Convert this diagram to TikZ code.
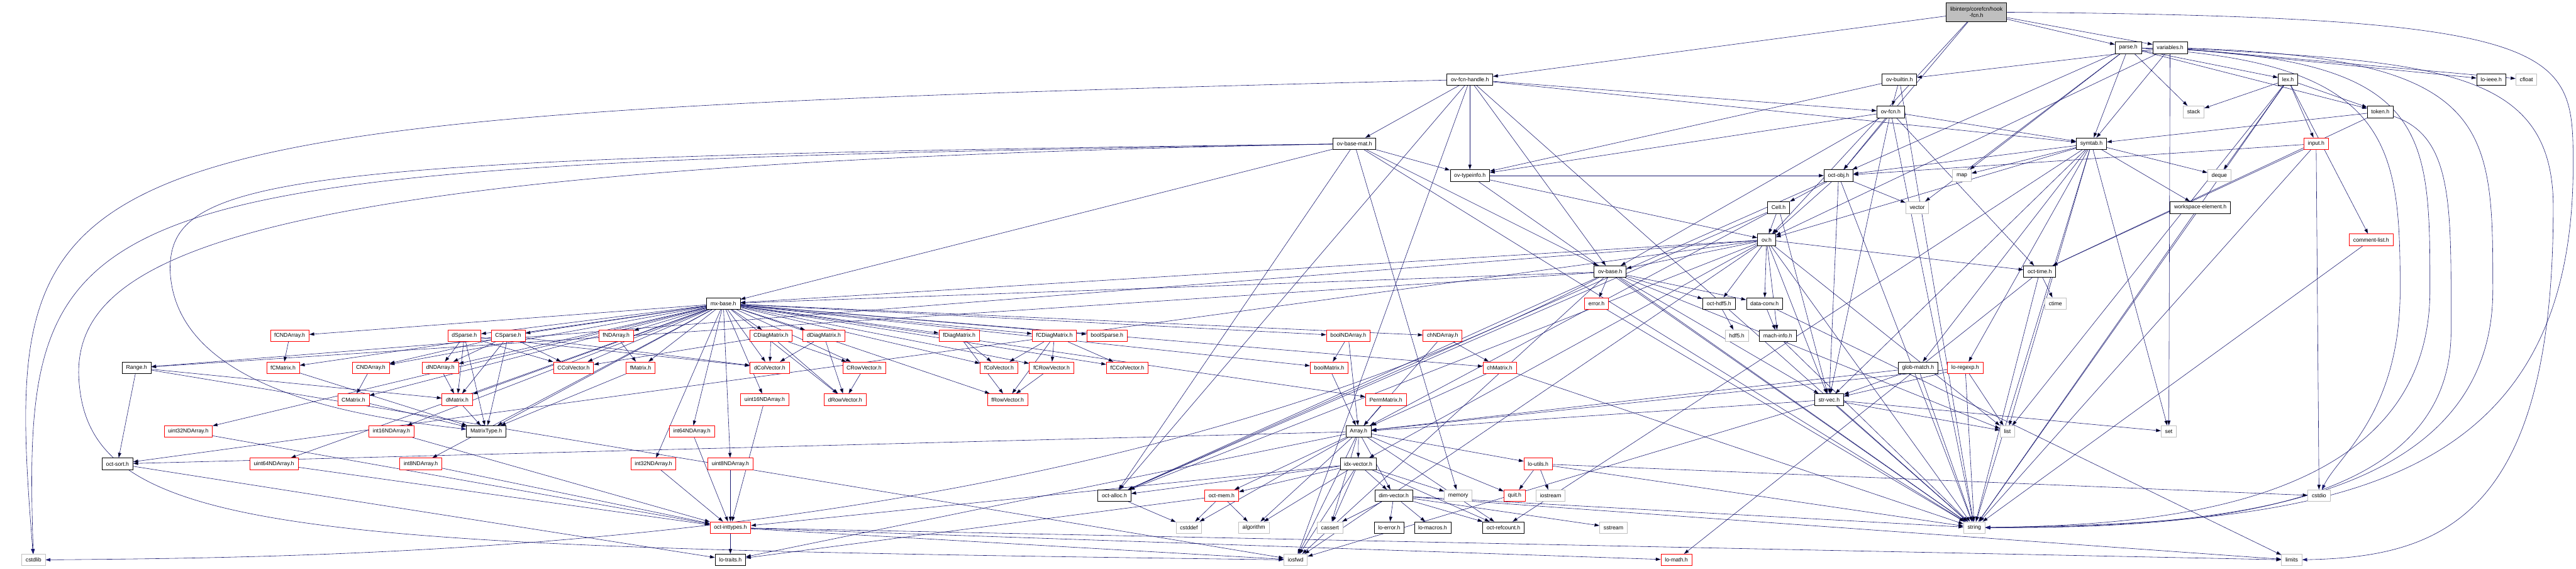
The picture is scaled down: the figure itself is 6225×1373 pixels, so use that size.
\documentclass[tikz,border=0pt]{standalone}
\usepackage{fontspec}
\setmainfont{Liberation Sans}
\usetikzlibrary{arrows.meta,backgrounds}
\definecolor{edgeblue}{RGB}{25,25,112}
\definecolor{sysgrey}{RGB}{191,191,191}

\begin{document}
\begin{tikzpicture}[x=1pt,y=1pt,
  hdr/.style={draw=black,fill=white,line width=1.1pt,inner xsep=9.5pt,inner ysep=0pt,minimum height=28pt,font=\fontsize{13.3}{15.5}\selectfont},
  redhdr/.style={hdr,draw=red},
  syshdr/.style={hdr,draw=sysgrey},
  mainhdr/.style={hdr,fill=sysgrey,minimum height=45pt,align=center},
  dep/.style={draw=edgeblue,line width=0.9pt,-{Triangle[length=12pt,width=8pt]}}]
\useasboundingbox (0,0) rectangle (6225,-1373);
\node[mainhdr] (hook) at (4776,-29) {libinterp/corefcn/hook\\-fcn.h};
\node[hdr] (parse) at (5143,-115) {parse.h}; \node[hdr] (vars) at (5244,-115) {variables.h};
\node[hdr] (ovfh) at (3552,-192) {ov-fcn-handle.h}; \node[hdr] (ovbuiltin) at (4590,-192) {ov-builtin.h};
\node[hdr] (lex) at (5529,-192) {lex.h}; \node[hdr] (loieee) at (6020,-192) {lo-ieee.h};
\node[syshdr] (cfloat) at (6105,-192) {cfloat};
\node[hdr] (ovfcn) at (4569,-270) {ov-fcn.h}; \node[syshdr] (stack) at (5301,-270) {stack};
\node[hdr] (token) at (5752,-270) {token.h};
\node[hdr] (ovbm) at (3273,-347) {ov-base-mat.h}; \node[hdr] (symtab) at (5054,-347) {symtab.h};
\node[redhdr] (input) at (5597,-347) {input.h};
\node[hdr] (ovti) at (3552,-424) {ov-typeinfo.h}; \node[hdr] (octobj) at (4443,-424) {oct-obj.h};
\node[syshdr] (map) at (4741,-424) {map}; \node[syshdr] (deque) at (5363,-424) {deque};
\node[hdr] (cell) at (4298,-501) {Cell.h}; \node[syshdr] (vector) at (4633,-501) {vector};
\node[hdr] (wselem) at (5317,-501) {workspace-element.h};
\node[hdr] (ov) at (4269,-579) {ov.h}; \node[redhdr] (cmtlist) at (5730,-579) {comment-list.h};
\node[hdr] (ovbase) at (3891,-656) {ov-base.h}; \node[hdr] (octtime) at (4929,-656) {oct-time.h};
\node[hdr] (mxbase) at (1748,-733) {mx-base.h}; \node[redhdr] (error) at (3858,-733) {error.h};
\node[hdr] (octhdf) at (4154,-733) {oct-hdf5.h}; \node[hdr] (dataconv) at (4264,-733) {data-conv.h};
\node[syshdr] (ctime) at (4967,-733) {ctime};
\node[redhdr] (fcnda) at (700,-811) {fCNDArray.h}; \node[redhdr] (dsparse) at (1122,-811) {dSparse.h};
\node[redhdr] (csparse) at (1228,-811) {CSparse.h}; \node[redhdr] (fnda) at (1489,-811) {fNDArray.h};
\node[redhdr] (cdiag) at (1863,-811) {CDiagMatrix.h}; \node[redhdr] (ddiag) at (1991,-811) {dDiagMatrix.h};
\node[redhdr] (fdiag) at (2318,-811) {fDiagMatrix.h}; \node[redhdr] (fcdiag) at (2548,-811) {fCDiagMatrix.h};
\node[redhdr] (boolsp) at (2675,-811) {boolSparse.h}; \node[redhdr] (boolnda) at (3258,-811) {boolNDArray.h};
\node[redhdr] (chnda) at (3486,-811) {chNDArray.h}; \node[syshdr] (hdf) at (4197,-811) {hdf5.h};
\node[hdr] (machinfo) at (4296,-811) {mach-info.h};
\node[hdr] (range) at (330,-888) {Range.h}; \node[redhdr] (fcmat) at (684,-888) {fCMatrix.h};
\node[redhdr] (cnda) at (896,-888) {CNDArray.h}; \node[redhdr] (dnda) at (1064,-888) {dNDArray.h};
\node[redhdr] (ccol) at (1386,-888) {CColVector.h}; \node[redhdr] (fmat) at (1548,-888) {fMatrix.h};
\node[redhdr] (dcol) at (1860,-888) {dColVector.h}; \node[redhdr] (crow) at (2088,-888) {CRowVector.h};
\node[redhdr] (fcol) at (2414,-888) {fColVector.h}; \node[redhdr] (fcrow) at (2541,-888) {fCRowVector.h};
\node[redhdr] (fccol) at (2724,-888) {fCColVector.h}; \node[redhdr] (boolmat) at (3212,-888) {boolMatrix.h};
\node[redhdr] (chmat) at (3624,-888) {chMatrix.h}; \node[hdr] (glob) at (4635,-888) {glob-match.h};
\node[redhdr] (regexp) at (4749,-888) {lo-regexp.h};
\node[redhdr] (cmat) at (854,-965) {CMatrix.h}; \node[redhdr] (dmat) at (1105,-965) {dMatrix.h};
\node[redhdr] (u16) at (1848,-965) {uint16NDArray.h}; \node[redhdr] (drow) at (2042,-965) {dRowVector.h};
\node[redhdr] (frow) at (2435,-965) {fRowVector.h}; \node[redhdr] (perm) at (3349,-965) {PermMatrix.h};
\node[hdr] (strvec) at (4420,-965) {str-vec.h};
\node[redhdr] (u32) at (455,-1042) {uint32NDArray.h}; \node[redhdr] (i16) at (946,-1042) {int16NDArray.h};
\node[hdr] (mtype) at (1175,-1042) {MatrixType.h}; \node[redhdr] (i64) at (1672,-1042) {int64NDArray.h};
\node[hdr] (array) at (3283,-1042) {Array.h}; \node[syshdr] (list) at (4851,-1042) {list};
\node[syshdr] (set) at (5241,-1042) {set};
\node[hdr] (sort) at (284,-1120) {oct-sort.h}; \node[redhdr] (u64) at (662,-1120) {uint64NDArray.h};
\node[redhdr] (i8) at (1017,-1120) {int8NDArray.h}; \node[redhdr] (i32) at (1579,-1120) {int32NDArray.h};
\node[redhdr] (u8) at (1765,-1120) {uint8NDArray.h}; \node[hdr] (idx) at (3282,-1120) {idx-vector.h};
\node[redhdr] (loutils) at (3717,-1120) {lo-utils.h};
\node[hdr] (alloc) at (2693,-1197) {oct-alloc.h}; \node[redhdr] (mem) at (2952,-1197) {oct-mem.h};
\node[hdr] (dimv) at (3368,-1197) {dim-vector.h}; \node[syshdr] (memory) at (3524,-1197) {memory};
\node[redhdr] (quit) at (3660,-1197) {quit.h}; \node[syshdr] (iostream) at (3747,-1197) {iostream};
\node[syshdr] (cstdio) at (5604,-1197) {cstdio};
\node[redhdr] (inttypes) at (1765,-1274) {oct-inttypes.h}; \node[syshdr] (cstddef) at (2873,-1274) {cstddef};
\node[syshdr] (algorithm) at (3030,-1274) {algorithm}; \node[syshdr] (cassert) at (3214,-1274) {cassert};
\node[hdr] (loerror) at (3357,-1274) {lo-error.h}; \node[hdr] (lomacros) at (3462,-1274) {lo-macros.h};
\node[hdr] (refcount) at (3633,-1274) {oct-refcount.h}; \node[syshdr] (sstream) at (3899,-1274) {sstream};
\node[syshdr] (string) at (4771,-1274) {string};
\node[syshdr] (cstdlib) at (81,-1352) {cstdlib}; \node[hdr] (lotraits) at (1765,-1352) {lo-traits.h};
\node[syshdr] (iosfwd) at (3131,-1352) {iosfwd}; \node[redhdr] (lomath) at (4051,-1352) {lo-math.h};
\node[syshdr] (limits) at (5538,-1352) {limits};
\begin{scope}[on background layer]
\path[dep] (hook) edge (ovfh) edge (octobj) edge (ov) edge (parse) edge (vars);
\draw[dep] (hook) .. controls (6215,-40) and (6218,-120) .. (6218,-400) .. controls (6218,-1200) and (5600,-1262) .. (string);
\path[dep] (parse) edge (stack) edge (lex) edge (token) edge (symtab) edge (octobj) edge (map) edge (vector);
\draw[dep] (parse) .. controls (5870,-135) and (5872,-300) .. (5872,-700) .. controls (5872,-1230) and (5200,-1268) .. (string);
\draw[dep] (parse) .. controls (5780,-150) and (5800,-350) .. (5800,-700) .. controls (5800,-1000) and (5650,-1100) .. (cstdio);
\path[dep] (vars) edge (ovbuiltin) edge (symtab) edge (loieee) edge (cfloat) edge (ov) edge (set);
\draw[dep] (vars) .. controls (6024,-140) and (6024,-300) .. (6024,-700) .. controls (6024,-1240) and (5300,-1272) .. (string);
\draw[dep] (vars) .. controls (5900,-150) and (6170,-170) .. (6170,-500) .. controls (6170,-1250) and (5900,-1345) .. (limits);
\path[dep] (ovfh) edge (ovbm) edge (ovti) edge (ovbase) edge (ovfcn) edge (symtab) edge (alloc) edge (iosfwd) edge (string);
\draw[dep] (ovfh) .. controls (60,-280) and (0,-330) .. (cstdlib);
\path[dep] (ovbuiltin) edge (ovfcn) edge (ovti) edge (string);
\path[dep] (ovfcn) edge (octobj) edge (symtab) edge (octtime) edge (strvec) edge (ovbase) edge (ovti) edge (string);
\path[dep] (ovbm) edge (ovti) edge (ovbase) edge (mxbase) edge (alloc) edge (memory) edge (string);
\draw[dep] (ovbm) .. controls (160,-400) and (50,-430) .. (cstdlib);
\draw[dep] (ovbm) .. controls (700,-380) and (411,-420) .. (411,-650) .. controls (420,-950) and (900,-1010) .. (mtype);
\draw[dep] (ovbm) .. controls (650,-395) and (190,-600) .. (190,-900) .. controls (200,-1300) and (700,-1320) .. (iosfwd);
\path[dep] (symtab) edge (octobj) edge (map) edge (ov) edge (deque) edge (wselem) edge (glob) edge (regexp) edge (list) edge (set) edge (string) edge (strvec) edge (refcount);
\path[dep] (input) edge (octobj) edge (octtime) edge (string) edge (cstdio);
\path[dep] (lex) edge (stack) edge (token) edge (input) edge (cmtlist) edge (deque) edge (list) edge (string);
\path[dep] (token) edge (symtab) edge (octtime);
\draw[dep] (token) .. controls (5930,-330) and (5923,-500) .. (5923,-800) .. controls (5923,-1240) and (5300,-1275) .. (string);
\path[dep] (cmtlist) edge (string); \path[dep] (wselem) edge (string);
\path[dep] (ovti) edge (octobj) edge (ov) edge (string);
\path[dep] (octobj) edge (cell) edge (ov) edge (vector) edge (string) edge (strvec) edge (alloc);
\path[dep] (cell) edge (ov) edge (array) edge (strvec) edge (alloc);
\path[dep] (ov) edge (ovbase) edge (octtime) edge (range) edge (dataconv) edge (idx) edge (machinfo) edge (mxbase) edge (alloc) edge (strvec) edge (octhdf) edge (sort) edge (iosfwd) edge (string) edge (list);
\path[dep] (ovbase) edge (error) edge (octhdf) edge (dataconv) edge (mxbase) edge (range) edge (strvec) edge (iosfwd) edge (string) edge (list) edge (alloc);
\draw[dep] (ovbase) .. controls (2600,-1330) and (900,-1345) .. (cstdlib);
\path[dep] (octtime) edge (ctime) edge (string) edge (lomath);
\path[dep] (error) edge (string); \path[dep] (dataconv) edge (machinfo) edge (limits);
\path[dep] (machinfo) edge (string); \path[dep] (octhdf) edge (hdf);
\path[dep] (glob) edge (strvec) edge (string) edge (array);
\path[dep] (regexp) edge (strvec) edge (list) edge (string) edge (array);
\path[dep] (strvec) edge (array) edge (list) edge (string) edge (iosfwd) edge (set);
\path[dep] (mxbase) edge (mtype) edge (boolmat) edge (chmat) edge (dmat) edge (cmat) edge (fmat) edge (fcmat) edge (dcol) edge (ccol) edge (fcol) edge (fccol) edge (drow) edge (crow) edge (frow) edge (fcrow) edge (ddiag) edge (cdiag) edge (fdiag) edge (fcdiag) edge (perm) edge (boolnda) edge (chnda) edge (dnda) edge (cnda) edge (fnda) edge (fcnda) edge (i8) edge (i16) edge (i32) edge (i64) edge (u8) edge (u16) edge (u32) edge (u64) edge (boolsp) edge (dsparse) edge (csparse);
\path[dep] (fcnda) edge (fcmat); \path[dep] (cnda) edge (cmat);
\path[dep] (dsparse) edge (dnda) edge (dmat) edge (mtype) edge (ccol) edge (dcol);
\path[dep] (csparse) edge (cnda) edge (dnda) edge (dmat) edge (mtype) edge (ccol) edge (dcol);
\path[dep] (dnda) edge (dmat); \path[dep] (dmat) edge (mtype); \path[dep] (fnda) edge (fmat);
\path[dep] (fmat) edge (mtype); \path[dep] (cmat) edge (mtype); \path[dep] (fcmat) edge (mtype);
\path[dep] (cdiag) edge (ccol) edge (dcol) edge (crow) edge (drow);
\path[dep] (ddiag) edge (dcol) edge (drow); \path[dep] (crow) edge (drow);
\path[dep] (fdiag) edge (fcol) edge (frow);
\path[dep] (fcdiag) edge (fcol) edge (fcrow) edge (fccol) edge (frow); \path[dep] (fcrow) edge (frow);
\path[dep] (range) edge (dmat) edge (sort) edge (iosfwd);
\path[dep] (u32) edge (inttypes); \path[dep] (u64) edge (inttypes); \path[dep] (i16) edge (inttypes);
\path[dep] (i8) edge (inttypes); \path[dep] (i64) edge (inttypes); \path[dep] (i32) edge (inttypes);
\path[dep] (u8) edge (inttypes); \path[dep] (u16) edge (inttypes);
\path[dep] (boolnda) edge (boolmat) edge (array); \path[dep] (boolmat) edge (array);
\path[dep] (chnda) edge (chmat) edge (array); \path[dep] (chmat) edge (array) edge (string);
\path[dep] (perm) edge (array);
\path[dep] (array) edge (idx) edge (dimv) edge (refcount) edge (loutils) edge (quit) edge (cassert) edge (iosfwd) edge (sort) edge (lotraits) edge (mem) edge (cstddef) edge (algorithm);
\path[dep] (idx) edge (dimv) edge (memory) edge (refcount) edge (cassert) edge (iosfwd) edge (inttypes) edge (alloc) edge (mem) edge (algorithm);
\path[dep] (dimv) edge (cassert) edge (loerror) edge (lomacros) edge (refcount) edge (sstream) edge (string) edge (limits);
\path[dep] (loutils) edge (quit) edge (iostream) edge (string) edge (cstdio);
\path[dep] (alloc) edge (cstddef); \path[dep] (mem) edge (cstddef) edge (algorithm) edge (lotraits);
\path[dep] (sort) edge (lotraits);
\path[dep] (inttypes) edge (lotraits) edge (limits) edge (iosfwd) edge (lomath);
\end{scope}
\end{tikzpicture}
\end{document}
